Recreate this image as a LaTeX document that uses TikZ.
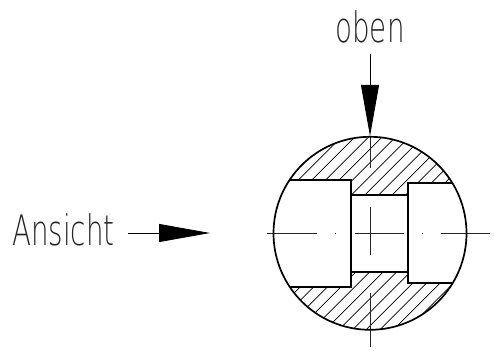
\documentclass[tikz,border=0pt]{standalone}
\usepackage{fontspec}
\usetikzlibrary{arrows.meta}
\newfontfamily\isofont[FakeStretch=0.66]{DejaVu Sans ExtraLight}
\tikzset{
  outline/.style={line width=1.7pt,black},
  thin hatch/.style={line width=0.7pt,black},
  centerline/.style={line width=0.75pt,black!85},
  label/.style={inner sep=0pt,font=\isofont\fontsize{42}{42}\selectfont,text=black!85},
  viewarrow/.style={line width=0.8pt,-{Triangle[length=51pt,width=18pt,fill=black]}}
}
\begin{document}
\begin{tikzpicture}[x=1pt,y=-1pt]
\useasboundingbox (0,0) rectangle (494,350);
\def\R{96.5}
\coordinate (C) at (370,233.3);
% hatching
\begin{scope}
  \clip (C) circle[radius=\R];
  \clip (270,130) -- (470,130) -- (470,183.3) -- (408.3,183.3) -- (408.3,195) -- (350.7,195) -- (350.7,180) -- (270,180) -- cycle
        (270,335) -- (470,335) -- (470,282.7) -- (408.3,282.7) -- (408.3,272) -- (350.7,272) -- (350.7,287.3) -- (270,287.3) -- cycle;
  \foreach \k in {-4,...,28}{
    \pgfmathsetmacro{\s}{478.3+13.6*\k}
    \draw[thin hatch] (\s-120,120) -- (\s-340,340);
  }
\end{scope}
% centre lines
\draw[centerline] (267,233.3) -- (316.7,233.3);
\draw[centerline] (335.2,233.3) -- (335.9,233.3);
\draw[centerline] (354.7,233.3) -- (403.7,233.3);
\draw[centerline] (422,233.3) -- (422.7,233.3);
\draw[centerline] (441.3,233.3) -- (490.3,233.3);
\draw[centerline] (370,137) -- (370,168);
\draw[centerline] (370,207) -- (370,255);
\draw[centerline] (370,293) -- (370,346.7);
% outline
\draw[outline] (C) circle[radius=\R];
\draw[outline] (289.6,180) -- (350.7,180) -- (350.7,287.3) -- (290,287.3);
\draw[outline] (452.5,183.3) -- (408.3,183.3) -- (408.3,282.7) -- (453,282.7);
\draw[outline] (350.7,195) -- (408.3,195);
\draw[outline] (350.7,272) -- (408.3,272);
% labels and view arrows
\node[label,anchor=base] (oben) at (370,42.5) {oben};
\node[label,anchor=base west] (ansicht) at (12,245) {Ansicht};
\coordinate (obenstart) at (370,54.5);
\coordinate (obentip) at (370,136);
\coordinate (ansichtstart) at (128,233);
\coordinate (ansichttip) at (210,233);
\draw[viewarrow] (obenstart) -- (obentip);
\draw[viewarrow] (ansichtstart) -- (ansichttip);
\end{tikzpicture}
\end{document}
